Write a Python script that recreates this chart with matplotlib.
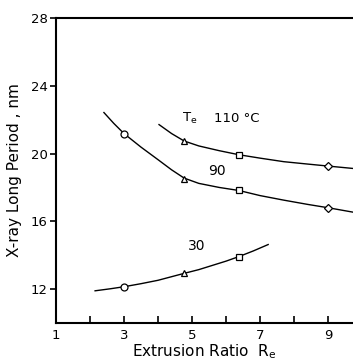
import numpy as np
import matplotlib
matplotlib.use("Agg")
import matplotlib.pyplot as plt

# measured points (extrusion ratio, long period nm)
re_pts = [3.0, 4.77, 6.38, 9.01]
markers = ["o", "^", "s", "D"]

lp_110 = [None, 20.74, 19.93, 19.26]
lp_90 = [21.18, 18.51, 17.82, 16.80]
lp_30 = [12.14, 12.93, 13.92, None]

# fitted curves
curve_110_x = [4.03, 4.4, 4.77, 5.2, 5.8, 6.38, 7.0, 7.7, 8.4, 9.01, 9.74]
curve_110_y = [21.71, 21.18, 20.74, 20.45, 20.17, 19.93, 19.73, 19.52, 19.38, 19.26, 19.12]
curve_90_x = [2.41, 2.7, 3.0, 3.5, 4.0, 4.4, 4.77, 5.2, 5.8, 6.38, 7.0, 7.7, 8.4, 9.01, 9.74]
curve_90_y = [22.42, 21.78, 21.18, 20.38, 19.64, 19.04, 18.55, 18.24, 18.00, 17.82, 17.52, 17.25, 17.00, 16.80, 16.54]
curve_30_x = [2.15, 2.6, 3.0, 3.5, 4.0, 4.77, 5.2, 5.6, 6.0, 6.38, 6.8, 7.24]
curve_30_y = [11.90, 12.02, 12.14, 12.32, 12.52, 12.93, 13.15, 13.40, 13.65, 13.92, 14.25, 14.63]

plt.rcParams['font.family'] = ['DejaVu Sans']

fig = plt.figure(figsize=(3.53, 3.63), dpi=100)
ax = fig.add_axes([0.1586, 0.1102, 0.8414, 0.8402])

for cx, cy in [(curve_110_x, curve_110_y), (curve_90_x, curve_90_y), (curve_30_x, curve_30_y)]:
    ax.plot(cx, cy, color='black', lw=1.0, zorder=2)

msize = {"o": 5.0, "^": 5.0, "s": 3.8, "D": 3.6}
for series in [lp_110, lp_90, lp_30]:
    for x, y, m in zip(re_pts, series, markers):
        if y is None:
            continue
        ax.plot(x, y, marker=m, ms=msize[m], mfc='white', mec='black',
                mew=0.9, ls='none', zorder=3)

ax.text(4.72, 22.05, r'T$_{\rm e}$', fontsize=9.5, va='center', ha='left')
ax.text(5.65, 22.05, '110 °C', fontsize=9.5, va='center', ha='left')
ax.text(5.47, 18.95, '90', fontsize=10, va='center', ha='left')
ax.text(4.88, 14.53, '30', fontsize=10, va='center', ha='left')

ax.set_xlim(1, 9.735)
ax.set_ylim(10, 28)
ax.set_xticks([1, 2, 3, 4, 5, 6, 7, 8, 9])
ax.set_xticklabels(['1', '', '3', '', '5', '', '7', '', '9'])
ax.set_yticks([12, 16, 20, 24, 28])
ax.tick_params(axis='x', direction='in', length=5, width=1.2, labelsize=9.5, pad=4)
ax.tick_params(axis='y', direction='out', length=4, width=1.2, labelsize=9.5, pad=2)
ax.spines['right'].set_visible(False)
for s in ['left', 'bottom', 'top']:
    ax.spines[s].set_linewidth(1.5)

ax.set_xlabel(r'Extrusion Ratio  R$_{\rm e}$', fontsize=11, labelpad=1)
ax.xaxis.set_label_coords(0.5, -0.062)
ax.set_ylabel('X-ray Long Period , nm', fontsize=11, labelpad=6)

fig.savefig('out.png', dpi=100)
